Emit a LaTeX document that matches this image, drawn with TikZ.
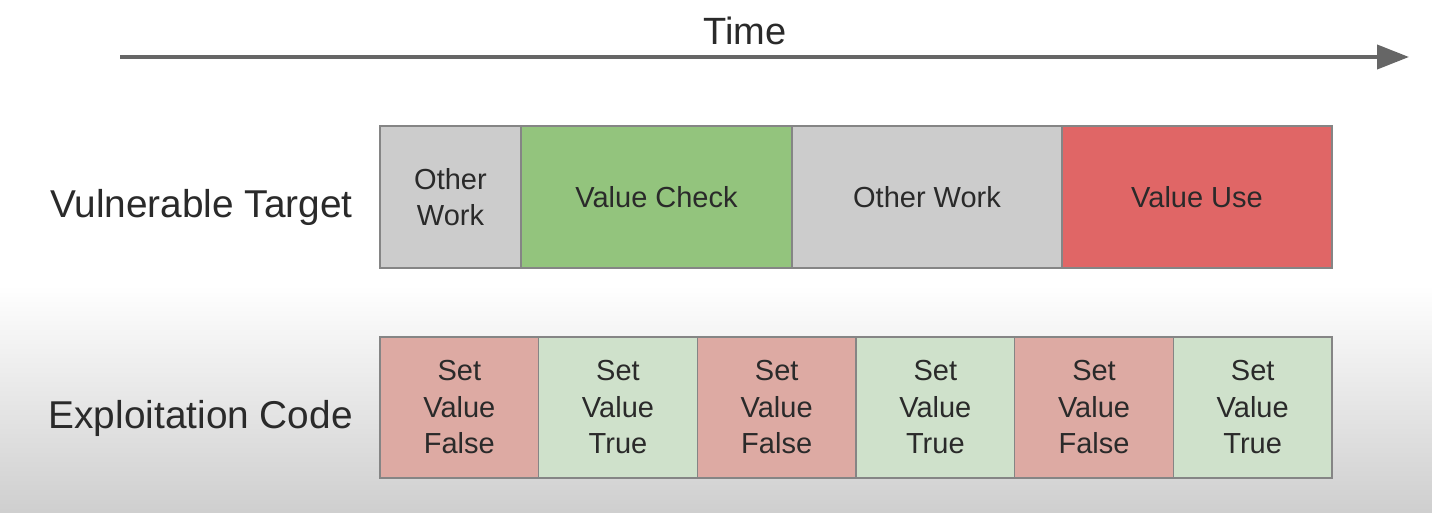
\documentclass[tikz,border=0pt]{standalone}
\usepackage{fontspec}
\setmainfont{Liberation Sans}
\usetikzlibrary{arrows.meta}
\definecolor{boxgray}{HTML}{CCCCCC}
\definecolor{boxgreen}{HTML}{93C47D}
\definecolor{boxred}{HTML}{E06666}
\definecolor{lightred}{HTML}{DDAAA3}
\definecolor{lightgreen}{HTML}{CFE1CB}
\definecolor{edgegray}{HTML}{858585}
\definecolor{arrowgray}{HTML}{666666}
\definecolor{textdark}{HTML}{2A2A2A}
\tikzset{
  x=1pt, y=-1pt,
  blk/.style={draw=edgegray, line width=1.5pt, inner sep=0pt, text=textdark,
    font=\fontsize{29}{36.5}\selectfont, align=center},
  rowlabel/.style={anchor=east, inner sep=0pt, text=textdark, font=\fontsize{38.8}{44}\selectfont},
}
\begin{document}
\begin{tikzpicture}
\useasboundingbox (0,0) rectangle (1432,513);
\fill[white] (0,0) rectangle (1432,513);
\shade[top color=white, bottom color=black!19] (0,285) rectangle (1432,513);

% Time arrow
\node[inner sep=0pt, text=textdark, font=\fontsize{38}{44}\selectfont] (time) at (745,31) {Time};
\coordinate (ta) at (120,57);
\coordinate (tb) at (1409,57);
\draw[arrowgray, line width=4pt, -{Triangle[length=32pt,width=24pt]}] (ta) -- (tb);

% Row labels
\node[rowlabel] (vt) at (353,207) {Vulnerable Target};
\node[rowlabel] (ec) at (353,418) {Exploitation Code};

% Top row
\node[blk, fill=boxgray, minimum width=141pt, minimum height=142pt] (t1) at (450.5,197) {Other\\Work};
\node[blk, fill=boxgreen, minimum width=271pt, minimum height=142pt] (t2) at (656.5,197) {Value Check};
\node[blk, fill=boxgray, minimum width=270pt, minimum height=142pt] (t3) at (927,197) {Other Work};
\node[blk, fill=boxred, minimum width=270pt, minimum height=142pt] (t4) at (1197,197) {Value Use};

% Bottom row
\foreach \i/\c/\t in {0/lightred/False,1/lightgreen/True,2/lightred/False,3/lightgreen/True,4/lightred/False,5/lightgreen/True}{
  \node[blk, fill=\c, minimum width=158.67pt, minimum height=141pt] (b\i) at ({380+158.67*\i+79.33},407.5) {Set\\Value\\\t};
}
\end{tikzpicture}
\end{document}
